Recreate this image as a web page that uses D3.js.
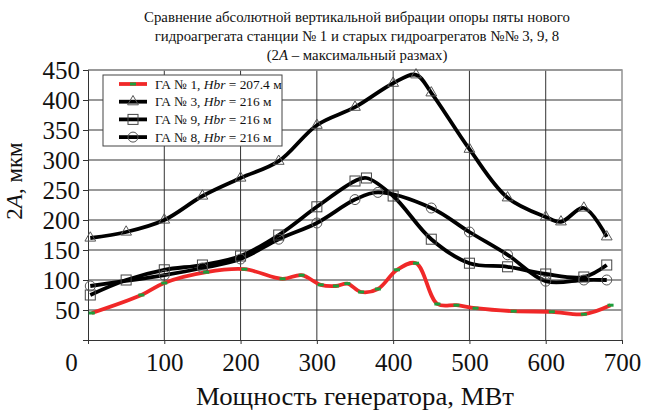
<!DOCTYPE html>
<meta charset="utf-8">
<style>
body { margin: 0; background: #fff; }
text { font-family: "Liberation Serif", "Times New Roman", serif; fill: #111; }
</style>
<body>
<script src="https://d3js.org/d3.v7.min.js"></script>
<script>

var w = 646, h = 411;
var margin = {top: 70, right: 24, bottom: 71, left: 88};
var width = w - margin.left - margin.right,
    height = h - margin.top - margin.bottom;

// data: [power MW, 2A um]
var ga1 = [[5,45],[70,75],[100,95],[155,113],[205,118],[255,102],[280,108],[305,92],[325,90],[340,94],
           [358,80],[380,85],[405,117],[430,128],[458,60],[483,58],[508,53],[558,48],[608,47],[650,43],[685,58]];
var ga3 = [[3,170],[50,180],[100,200],[150,240],[200,270],[250,298],[300,358],[350,388],[400,428],[430,442],
           [450,412],[500,318],[550,237],[600,205],[620,197],[650,220],[680,172]];
var ga9 = [[3,75],[50,100],[100,117],[150,125],[200,140],[250,175],[300,222],[350,265],[365,270],[400,240],
           [450,168],[500,128],[550,122],[600,110],[650,105],[680,125]];
var ga8 = [[3,90],[100,108],[150,120],[200,135],[250,168],[300,195],[350,234],[380,246],[450,220],[500,180],
           [550,142],[600,98],[650,100],[680,100]];

var xTicks = [0,100,200,300,400,500,600,700];
var yTicks = [50,100,150,200,250,300,350,400,450];
var titleLines = ["Сравнение абсолютной вертикальной вибрации опоры пяты нового",
                  "гидроагрегата станции № 1 и старых гидроагрегатов №№ 3, 9, 8"];

var svg = d3.select("body").append("svg")
    .attr("width", w).attr("height", h);

var g = svg.append("g")
    .attr("transform", "translate(" + margin.left + "," + margin.top + ")");

var x = d3.scaleLinear().domain([0, 700]).range([0, width]);
var y = d3.scaleLinear().domain([0, 450]).range([height, 0]);

// grid
g.selectAll(".hgrid").data(yTicks).enter().append("line")
    .attr("x1", 0).attr("x2", width)
    .attr("y1", d => y(d)).attr("y2", d => y(d))
    .attr("stroke", "#777").attr("stroke-width", 1.3);
g.selectAll(".vgrid").data(xTicks.slice(1, -1)).enter().append("line")
    .attr("x1", d => x(d)).attr("x2", d => x(d))
    .attr("y1", 0).attr("y2", height)
    .attr("stroke", "#333").attr("stroke-width", 1);
// frame right/top
g.append("path")
    .attr("d", "M0,0H" + width + "V" + height)
    .attr("fill", "none").attr("stroke", "#999").attr("stroke-width", 1.6);

// axes
var xAxis = g.append("g").attr("transform", "translate(0," + height + ")")
    .call(d3.axisBottom(x).tickValues(xTicks).tickSize(4).tickPadding(9));
var yAxis = g.append("g")
    .call(d3.axisLeft(y).tickValues(yTicks).tickSize(5).tickPadding(3));
[xAxis, yAxis].forEach(function(a) {
    a.attr("font-family", null);
    a.select(".domain").attr("stroke", "#333");
    a.selectAll(".tick line").attr("stroke", "#333");
    a.selectAll("text").attr("font-size", 25).attr("fill", "#111");
});
yAxis.selectAll("text").attr("dy", "0.34em");
xAxis.selectAll("text").attr("dy", "0.71em");
xAxis.selectAll(".tick").filter(d => d === 0).select("text").attr("x", -17);

// lines
var line = d3.line()
    .x(d => x(d[0])).y(d => y(d[1]))
    .curve(d3.curveCatmullRom.alpha(0.5));

var blacks = [ga3, ga9, ga8];
g.selectAll(".bline").data(blacks).enter().append("path")
    .attr("d", line).attr("fill", "none")
    .attr("stroke", "#000").attr("stroke-width", 3.8);

g.append("path").datum(ga1).attr("d", line)
    .attr("fill", "none").attr("stroke", "#f02828").attr("stroke-width", 3.8);

// markers
var tri = d3.symbol().type(d3.symbolTriangle).size(50);
g.selectAll(".tri").data(ga3).enter().append("path")
    .attr("d", tri)
    .attr("transform", d => "translate(" + x(d[0]) + "," + y(d[1]) + ")")
    .attr("fill", "none").attr("stroke", "#555").attr("stroke-width", 1);
g.selectAll(".sq").data(ga9).enter().append("rect")
    .attr("x", d => x(d[0]) - 5).attr("y", d => y(d[1]) - 5)
    .attr("width", 10).attr("height", 10)
    .attr("fill", "none").attr("stroke", "#444").attr("stroke-width", 1);
g.selectAll(".circ").data(ga8).enter().append("circle")
    .attr("cx", d => x(d[0])).attr("cy", d => y(d[1])).attr("r", 5)
    .attr("fill", "none").attr("stroke", "#555").attr("stroke-width", 1);
g.selectAll(".gm").data(ga1).enter().append("rect")
    .attr("x", d => x(d[0]) - 3).attr("y", d => y(d[1]) - 1.5)
    .attr("width", 6).attr("height", 3)
    .attr("fill", "#1e9e3c");

// title
var title = svg.append("text").attr("text-anchor", "middle")
    .attr("x", 357).attr("font-size", 14.8);
title.selectAll("tspan").data(titleLines).enter().append("tspan")
    .attr("x", 357).attr("y", (d, i) => 22 + i * 19).text(d => d);
var t3 = title.append("tspan").attr("x", 357).attr("y", 60);
t3.append("tspan").text("(2");
t3.append("tspan").attr("font-style", "italic").text("A");
t3.append("tspan").text(" – максимальный размах)");

// axis titles
svg.append("text").attr("x", 355).attr("y", 405).attr("text-anchor", "middle")
    .attr("font-size", 25).attr("textLength", 318).attr("lengthAdjust", "spacingAndGlyphs")
    .text("Мощность генератора, МВт");
var yl = svg.append("text").attr("text-anchor", "middle").attr("font-size", 23)
    .attr("transform", "translate(22,181) rotate(-90)");
yl.append("tspan").text("2");
yl.append("tspan").attr("font-style", "italic").text("A");
yl.append("tspan").text(", мкм");

// legend
var leg = svg.append("g").attr("transform", "translate(103,75)");
leg.append("rect").attr("width", 179).attr("height", 71)
    .attr("fill", "#fff").attr("stroke", "#444").attr("stroke-width", 1);
var items = [
    {name: "ГА № 1, ", hbr: " = 207.4 м", type: "red"},
    {name: "ГА № 3, ", hbr: " = 216 м", type: "tri"},
    {name: "ГА № 9, ", hbr: " = 216 м", type: "sq"},
    {name: "ГА № 8, ", hbr: " = 216 м", type: "circ"}
];
var li = leg.selectAll(".li").data(items).enter().append("g")
    .attr("transform", (d, i) => "translate(0," + (9 + i * 17.7) + ")");
li.append("line").attr("x1", 16).attr("x2", 44)
    .attr("stroke", d => d.type === "red" ? "#f02828" : "#000").attr("stroke-width", 3.8);
li.each(function(d) {
    var s = d3.select(this);
    if (d.type === "red") s.append("rect").attr("x", 27).attr("y", -1.5).attr("width", 6).attr("height", 3).attr("fill", "#1e9e3c");
    if (d.type === "tri") s.append("path").attr("d", tri).attr("transform", "translate(30,0)").attr("fill", "none").attr("stroke", "#555");
    if (d.type === "sq") s.append("rect").attr("x", 25).attr("y", -5).attr("width", 10).attr("height", 10).attr("fill", "none").attr("stroke", "#444");
    if (d.type === "circ") s.append("circle").attr("cx", 30).attr("r", 5).attr("fill", "none").attr("stroke", "#555");
});
var lt = li.append("text").attr("x", 52).attr("dy", "0.35em").attr("font-size", 13.4);
lt.append("tspan").text(d => d.name);
lt.append("tspan").attr("font-style", "italic").text("Hbr");
lt.append("tspan").text(d => d.hbr);

</script>
</body>
